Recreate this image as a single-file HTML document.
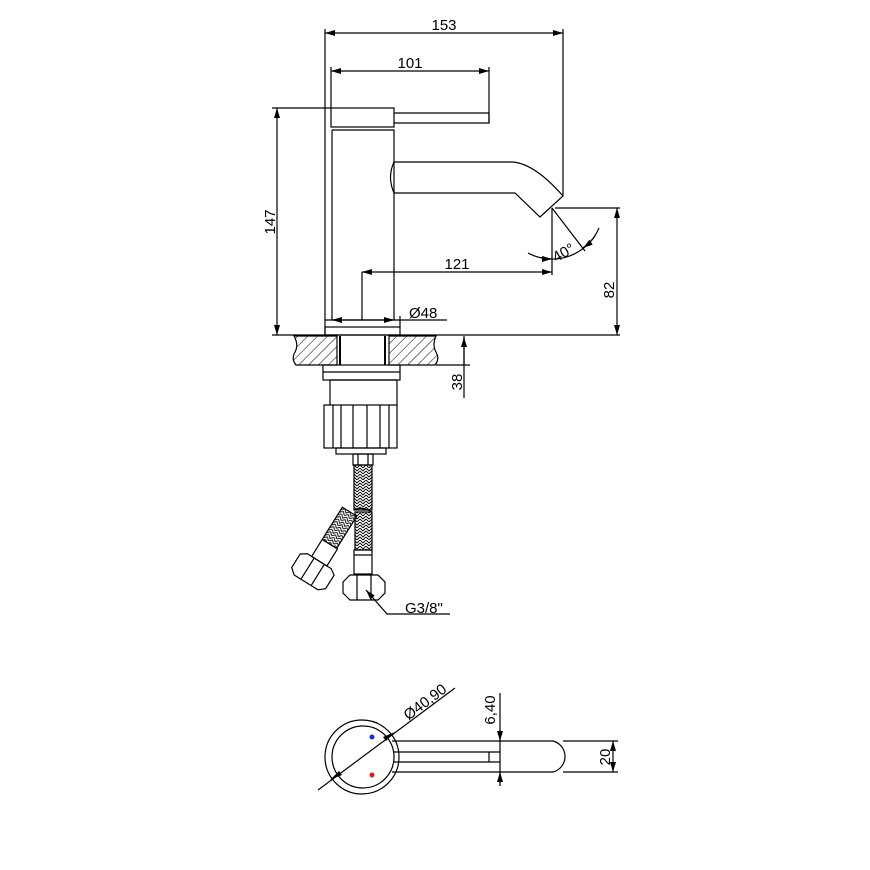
<!DOCTYPE html>
<html><head><meta charset="utf-8"><style>
html,body{margin:0;padding:0;background:#fff;}
svg{display:block;}
text{font-family:"Liberation Sans",Arial,sans-serif;font-size:15px;fill:#000;}
</style></head><body>
<svg width="870" height="870" viewBox="0 0 870 870" xmlns="http://www.w3.org/2000/svg">
<defs>
<pattern id="h" patternUnits="userSpaceOnUse" width="7" height="7" patternTransform="rotate(45)">
<line x1="0" y1="0" x2="0" y2="7" stroke="#000" stroke-width="1"/>
</pattern>
<pattern id="br" patternUnits="userSpaceOnUse" width="6" height="6">
<path d="M0 0 L3 3 L6 0 M0 3 L3 6 L6 3" fill="none" stroke="#000" stroke-width="0.9"/>
</pattern>
<marker id="a" viewBox="0 0 10 6" refX="10" refY="3" markerWidth="10" markerHeight="6" orient="auto-start-reverse" markerUnits="userSpaceOnUse">
<path d="M0 0 L10 3 L0 6 Z" fill="#000"/>
</marker>
</defs>
<g fill="none" stroke="#000" stroke-width="1.2">
<line x1="325" y1="33" x2="563" y2="33" marker-start="url(#a)" marker-end="url(#a)"/>
<line x1="325" y1="29" x2="325" y2="336"/>
<line x1="563" y1="29" x2="563" y2="196"/>
<line x1="331" y1="71" x2="489" y2="71" marker-start="url(#a)" marker-end="url(#a)"/>
<line x1="331" y1="67" x2="331" y2="108"/>
<line x1="489" y1="67" x2="489" y2="123"/>
<rect x="331" y="108" width="63" height="19"/>
<path d="M394 113 L489 113 L489 123 L394 123"/>
<path d="M332 130 L394 130 L394 320 M332 130 L332 320"/>
<path d="M394 162 Q387 177 394 193"/>
<path d="M394 162 L513 162 Q535 164 563 196 L540 217 L515 193 L394 193"/>
<line x1="272" y1="108" x2="331" y2="108"/>
<line x1="277" y1="108" x2="277" y2="335" marker-start="url(#a)" marker-end="url(#a)"/>
<line x1="272" y1="335" x2="620" y2="335"/>
<line x1="325" y1="320" x2="447" y2="320"/>
<rect x="325" y="327" width="75" height="8"/>
<line x1="400" y1="316" x2="400" y2="327"/>
<line x1="332" y1="320" x2="394" y2="320" marker-start="url(#a)" marker-end="url(#a)"/>
<line x1="362" y1="272" x2="552" y2="272" marker-start="url(#a)" marker-end="url(#a)"/>
<line x1="362" y1="272" x2="362" y2="320"/>
<line x1="552" y1="208" x2="552" y2="275"/>
<line x1="552" y1="208" x2="585" y2="251"/>
<path d="M528 253 A51 51 0 0 0 599 228"/>
<path d="M540 257.5 A51 51 0 0 0 552 259" marker-end="url(#a)"/>
<path d="M595 236 A51 51 0 0 1 583 248" marker-end="url(#a)"/>
<line x1="555" y1="208" x2="620" y2="208"/>
<line x1="617" y1="208" x2="617" y2="335" marker-start="url(#a)" marker-end="url(#a)"/>
<path d="M337 336 L294 336 Q299 345 295 352 Q291 359 296 365 L337 365 Z" fill="url(#h)"/>
<path d="M389 336 L436 336 Q432 345 436 352 Q440 359 435 365 L389 365 Z" fill="url(#h)"/>
<line x1="340" y1="336" x2="340" y2="365" stroke-width="2"/>
<line x1="385" y1="336" x2="385" y2="365" stroke-width="2"/>
<line x1="436" y1="365" x2="470" y2="365"/>
<line x1="464" y1="336" x2="464" y2="398"/>
<line x1="464" y1="365" x2="464" y2="337" marker-end="url(#a)"/>
<rect x="323" y="365" width="77" height="15"/>
<line x1="323" y1="372" x2="400" y2="372"/>
<path d="M330 380 L330 405 M397 380 L397 405 M330 380 L397 380" />
<rect x="324" y="405" width="73" height="43"/>
<path d="M333 405 V448 M341 405 V448 M353 405 V448 M367 405 V448 M380 405 V448 M389 405 V448"/>
<rect x="336" y="448" width="50" height="6"/>
<rect x="353" y="454" width="20" height="11"/>
<line x1="358" y1="454" x2="358" y2="465"/><line x1="368" y1="454" x2="368" y2="465"/>
<rect x="354" y="465" width="18" height="45" fill="url(#br)"/>
<path d="M354 510 Q362 506 372 512"/>
<rect x="355" y="512" width="17" height="38" fill="url(#br)"/>
<rect x="354" y="550" width="18" height="24"/>
<line x1="354" y1="555" x2="372" y2="555"/>
<path d="M343 582 L350 575 L378 575 L385 582 L385 593 L378 600 L350 600 L343 593 Z"/>
<line x1="357" y1="575" x2="357" y2="600"/><line x1="371" y1="575" x2="371" y2="600"/>
<g transform="translate(350 512) rotate(32)">
<rect x="-9" y="0" width="17" height="38" fill="url(#br)"/>
<rect x="-9" y="38" width="18" height="20"/>
<path d="M-20 62 L-14 58 L14 58 L20 62 L20 78 L14 83 L-14 83 L-20 78 Z"/>
<line x1="-6" y1="58" x2="-6" y2="83"/><line x1="6" y1="58" x2="6" y2="83"/>
</g>
<path d="M366 590 L387 614 L450 614" marker-start="url(#a)"/>
<circle cx="362" cy="757" r="37"/>
<circle cx="363" cy="757" r="31"/>
<path d="M392 741 L553 741 A16 16 0 0 1 553 772 L392 772"/>
<path d="M394 752 L500 752 M394 762 L500 762"/>
<line x1="489" y1="752" x2="489" y2="762"/>
<line x1="500" y1="693" x2="500" y2="786"/>
<line x1="500" y1="730" x2="500" y2="741" marker-end="url(#a)"/>
<line x1="500" y1="783" x2="500" y2="772" marker-end="url(#a)"/>
<line x1="563" y1="741" x2="618" y2="741"/>
<line x1="563" y1="772" x2="618" y2="772"/>
<line x1="613" y1="741" x2="613" y2="772" marker-start="url(#a)" marker-end="url(#a)"/>
<line x1="318" y1="790" x2="455" y2="688"/>
</g>
<g fill="#000">
<path d="M330 780 L339 771 L342 775 Z"/>
<path d="M395 732 L386 741 L383 737 Z"/>
</g>
<circle cx="372" cy="737" r="2.5" fill="#1a2be0"/>
<circle cx="372" cy="775" r="2.5" fill="#e01a1a"/>
<text x="444" y="30" text-anchor="middle">153</text>
<text x="410" y="68" text-anchor="middle">101</text>
<text x="457" y="269" text-anchor="middle">121</text>
<text x="409" y="318">Ø48</text>
<text x="405" y="613">G3/8"</text>
<text transform="translate(275 222) rotate(-90)" text-anchor="middle">147</text>
<text transform="translate(614 290) rotate(-90)" text-anchor="middle">82</text>
<text transform="translate(462 382) rotate(-90)" text-anchor="middle">38</text>
<text transform="translate(566 257) rotate(-30)" text-anchor="middle">40°</text>
<text transform="translate(495 710) rotate(-90)" text-anchor="middle">6,40</text>
<text transform="translate(610 757) rotate(-90)" text-anchor="middle">20</text>
<text transform="translate(428 706) rotate(-37)" text-anchor="middle">Ø40,90</text>
</svg>
</body></html>
